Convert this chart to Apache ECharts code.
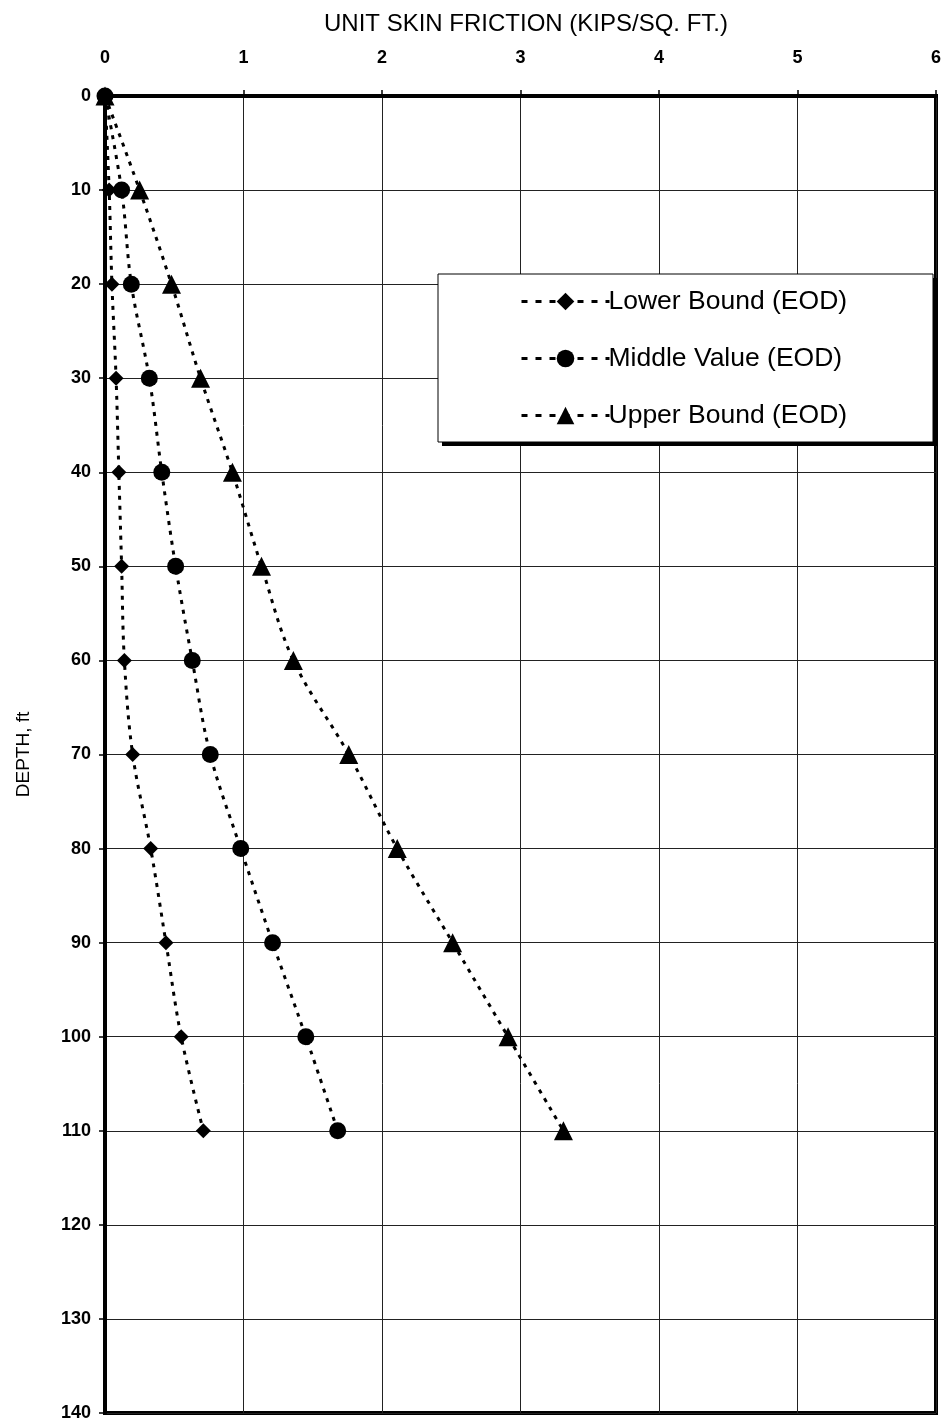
<!DOCTYPE html>
<html>
<head>
<meta charset="utf-8">
<script src="https://cdn.jsdelivr.net/npm/echarts@6/dist/echarts.min.js"></script>
<style>
html,body{margin:0;padding:0;background:#fff;}
#chart{width:945px;height:1423px;}
</style>
</head>
<body>
<div id="chart"></div>
<script>
// Depth below ground (ft)
const depths = [0, 10, 20, 30, 40, 50, 60, 70, 80, 90, 100, 110];
// Unit skin friction (ksf) at end of driving
const lowerBound = [0, 0.03, 0.05, 0.08, 0.10, 0.12, 0.14, 0.20, 0.33, 0.44, 0.55, 0.71];
const middleValue = [0, 0.12, 0.19, 0.32, 0.41, 0.51, 0.63, 0.76, 0.98, 1.21, 1.45, 1.68];
const upperBound = [0, 0.25, 0.48, 0.69, 0.92, 1.13, 1.36, 1.76, 2.11, 2.51, 2.91, 3.31];
const seriesNames = ['Lower Bound (EOD)', 'Middle Value (EOD)', 'Upper Bound (EOD)'];

const FONT = 'Liberation Sans, Arial, sans-serif';
const pairs = vals => vals.map((v, i) => [v, depths[i]]);

function curve(name, vals, symbol, size) {
  return {
    name: name,
    type: 'line',
    data: pairs(vals),
    smooth: 0.35,
    symbol: symbol,
    symbolSize: size,
    itemStyle: { color: '#000' },
    lineStyle: { color: '#000', width: 3, type: [4, 6] },
    emphasis: { disabled: true },
    z: 5
  };
}

// Legend frame: white panel with a hard drop shadow on the right and bottom
const LEG = { x: 438, y: 274, w: 495, h: 168 };

const chart = echarts.init(document.getElementById('chart'), null, { renderer: 'canvas' });
chart.setOption({
  backgroundColor: '#fff',
  animation: false,
  title: {
    text: 'UNIT SKIN FRICTION (KIPS/SQ. FT.)',
    left: 521, top: 7, textAlign: 'center',
    textStyle: { fontFamily: FONT, fontSize: 24, fontWeight: 'normal', color: '#000' }
  },
  grid: { left: 105, top: 96, width: 831, height: 1317, show: true, borderColor: '#000', borderWidth: 4, backgroundColor: 'transparent' },
  graphic: [
    { type: 'rect', z: 20, silent: true,
      shape: { x: LEG.x + 4, y: LEG.y + 4, width: LEG.w, height: LEG.h },
      style: { fill: '#000' } },
    { type: 'rect', z: 21, silent: true,
      shape: { x: LEG.x, y: LEG.y, width: LEG.w, height: LEG.h },
      style: { fill: '#fff', stroke: '#000', lineWidth: 1 } }
  ],
  legend: {
    orient: 'vertical',
    left: LEG.x, top: LEG.y,
    z: 30,
    padding: [14, 20, 20, 82],
    itemGap: 30,
    itemWidth: 88, itemHeight: 22,
    lineStyle: { width: 3, type: [6, 8] },
    textStyle: { fontFamily: FONT, fontSize: 26.5, color: '#000', padding: [0, 0, 0, -6] },
    data: seriesNames
  },
  xAxis: {
    type: 'value', position: 'top', min: 0, max: 6, interval: 1,
    axisLine: { show: true, lineStyle: { color: '#000', width: 4 } },
    axisTick: { show: true, inside: false, length: 6, lineStyle: { color: '#000', width: 1.5 } },
    axisLabel: { fontFamily: FONT, fontSize: 18, fontWeight: 'bold', color: '#000', margin: 29 },
    splitLine: { show: true, lineStyle: { color: '#222', width: 1 } }
  },
  yAxis: {
    type: 'value', inverse: true, min: 0, max: 140, interval: 10,
    name: 'DEPTH, ft', nameLocation: 'middle', nameGap: 72, nameRotate: 90,
    nameTextStyle: { fontFamily: FONT, fontSize: 19, color: '#000' },
    axisLine: { show: true, lineStyle: { color: '#000', width: 4 } },
    axisTick: { show: true, inside: false, length: 6, lineStyle: { color: '#000', width: 1.5 } },
    axisLabel: { fontFamily: FONT, fontSize: 18, fontWeight: 'bold', color: '#000', margin: 14 },
    splitLine: { show: true, lineStyle: { color: '#222', width: 1 } }
  },
  series: [
    curve(seriesNames[0], lowerBound, 'diamond', 15),
    curve(seriesNames[1], middleValue, 'circle', 17),
    curve(seriesNames[2], upperBound, 'triangle', 19)
  ]
});
</script>
</body>
</html>
